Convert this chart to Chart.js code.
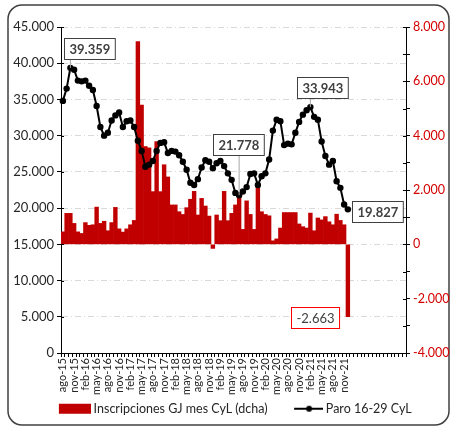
<!DOCTYPE html>
<html>
<head>
<meta charset="utf-8">
<script src="https://cdn.jsdelivr.net/npm/chart.js@4.4.0/dist/chart.umd.min.js"></script>
<style>
html, body { margin: 0; padding: 0; background: #fff; }
canvas { display: block; }
</style>
</head>
<body>
<canvas id="grafico" width="451" height="428"></canvas>
<script>
// meses ago-15 .. dic-21
var meses = ['ago-15','sep-15','oct-15','nov-15','dic-15',
    'ene-16','feb-16','mar-16','abr-16','may-16','jun-16','jul-16','ago-16','sep-16','oct-16','nov-16','dic-16',
    'ene-17','feb-17','mar-17','abr-17','may-17','jun-17','jul-17','ago-17','sep-17','oct-17','nov-17','dic-17',
    'ene-18','feb-18','mar-18','abr-18','may-18','jun-18','jul-18','ago-18','sep-18','oct-18','nov-18','dic-18',
    'ene-19','feb-19','mar-19','abr-19','may-19','jun-19','jul-19','ago-19','sep-19','oct-19','nov-19','dic-19',
    'ene-20','feb-20','mar-20','abr-20','may-20','jun-20','jul-20','ago-20','sep-20','oct-20','nov-20','dic-20',
    'ene-21','feb-21','mar-21','abr-21','may-21','jun-21','jul-21','ago-21','sep-21','oct-21','nov-21','dic-21'];
var huecos = 15; // el eje sigue vacio a la derecha

// Paro 16-29 CyL (eje izq)
var paro = [34800,36500,39359,39100,37600,37500,37600,36900,36300,34100,
    31200,30000,30400,32100,32800,33200,31200,32000,32100,31200,
    29300,27900,25700,26000,26500,27900,29000,29100,27600,27900,
    27800,27300,26400,25300,23500,23200,24000,25600,26600,26400,
    25500,26200,26500,25800,24800,23900,22100,21778,22300,22900,
    24700,24800,23200,24400,24800,26700,30700,32200,32000,28700,
    28900,28800,30400,31900,32900,33500,33943,32600,32200,29200,
    27200,26000,26500,23700,22800,20500,19827];

// Inscripciones GJ mes CyL (eje dcha)
var inscripciones = [460,1140,1140,770,460,400,800,700,720,1370,
    770,850,500,800,1360,570,450,570,720,880,
    7460,5130,3600,3550,1940,3780,1940,2930,2480,1450,
    1450,1200,1100,1350,1660,1950,1080,1690,1410,1040,
    -150,1080,870,1950,870,1140,1450,1900,550,1600,
    1100,550,2180,1200,1100,1050,130,200,600,1170,
    1170,1170,1170,750,650,600,1150,500,970,900,
    1020,830,720,1110,880,720,-2663];

var ticksIzq = { min: 0, max: 45000, paso: 2500, etiqueta: 5000 };
var ticksDer = { min: -4000, max: 8000, paso: 500, etiqueta: 2000 };

// valores destacados: [serie, indice]
var destacados = [[1, 2], [1, 47], [1, 66], [1, 76], [0, 76]];

function miles(v) {
    var s = Math.abs(v).toString().replace(/\B(?=(\d{3})+(?!\d))/g, '.');
    return (v < 0 ? '-' : '') + s;
}

// muestras de leyenda (la parte visible va a la derecha de la imagen)
function muestra(tipo) {
    var c = document.createElement('canvas');
    c.width = 55; c.height = 12;
    var g = c.getContext('2d');
    if (tipo === 'barra') {
        g.fillStyle = '#c00000';
        g.fillRect(23, 1, 32, 10);
    } else {
        g.strokeStyle = '#000'; g.lineWidth = 2;
        g.beginPath(); g.moveTo(26, 6); g.lineTo(55, 6); g.stroke();
        g.fillStyle = '#000';
        g.beginPath(); g.arc(41, 6, 3, 0, Math.PI * 2); g.fill();
    }
    return c;
}

var PB = 3;
var etiquetas = meses.concat(new Array(huecos).fill(''));

var marco = {
    id: 'marco',
    beforeDraw: function(chart) {
        var ctx = chart.ctx;
        ctx.save();
        ctx.fillStyle = '#fff';
        ctx.fillRect(0, 0, chart.width, chart.height);
        ctx.strokeStyle = '#404040';
        ctx.lineWidth = 1.5;
        ctx.beginPath();
        ctx.roundRect(8, 5, 441, 420, 14);
        ctx.stroke();
        ctx.restore();
    },
    afterDraw: function(chart) {
        // marcas que cruzan el eje
        var ctx = chart.ctx;
        ctx.save();
        ctx.strokeStyle = '#000';
        ctx.lineWidth = 1;
        ['y', 'y2'].forEach(function(id) {
            var s = chart.scales[id];
            var x = id === 'y' ? s.right : s.left;
            var d = id === 'y' ? 3 : -3;
            s.ticks.forEach(function(t) {
                var py = Math.round(s.getPixelForValue(t.value)) + 0.5;
                ctx.beginPath(); ctx.moveTo(x, py); ctx.lineTo(x + d, py); ctx.stroke();
            });
        });
        ctx.restore();
    }
};

var notas = {
    id: 'notas',
    afterDatasetsDraw: function(chart) {
        var ctx = chart.ctx;
        var desp = [[19, -19], [-1, -51], [12, -20], [30, 2], [-33, 1]];
        ctx.save();
        destacados.forEach(function(d, k) {
            var el = chart.getDatasetMeta(d[0]).data[d[1]];
            var valor = d[0] === 0 ? inscripciones[d[1]] : paro[d[1]];
            var texto = miles(valor);
            var negrita = d[0] === 1;
            ctx.font = (negrita ? 'bold ' : '') + '13px Lato';
            var w = ctx.measureText(texto).width + 10;
            var h = 21;
            var cx = el.x + desp[k][0], cy = el.y + desp[k][1];
            var l = Math.round(cx - w / 2) + 0.5, t = Math.round(cy - h / 2) + 0.5;
            if (el.y > t + h + 2) {
                ctx.strokeStyle = '#a6a6a6'; ctx.lineWidth = 1;
                ctx.beginPath();
                ctx.moveTo(Math.min(Math.max(el.x, l + 4), l + w - 4), t + h);
                ctx.lineTo(el.x, el.y);
                ctx.stroke();
            }
            ctx.fillStyle = '#fff';
            ctx.fillRect(l, t, w, h);
            ctx.strokeStyle = negrita ? '#404040' : '#ff0000';
            ctx.lineWidth = 1;
            ctx.strokeRect(l, t, w, h);
            ctx.fillStyle = '#404040';
            ctx.textAlign = 'center';
            ctx.textBaseline = 'middle';
            ctx.fillText(texto, l + w / 2, t + h / 2 + 1);
        });
        ctx.restore();
    }
};

Chart.defaults.font.family = 'Lato';
Chart.defaults.color = '#262626';

new Chart(document.getElementById('grafico'), {
    type: 'bar',
    data: {
        labels: etiquetas,
        datasets: [{
            type: 'bar',
            label: 'Inscripciones GJ mes CyL (dcha)',
            data: inscripciones,
            yAxisID: 'y2',
            backgroundColor: '#c00000',
            barPercentage: 1,
            categoryPercentage: 1,
            order: 2
        }, {
            type: 'line',
            label: 'Paro 16-29 CyL',
            data: paro,
            yAxisID: 'y',
            borderColor: '#000',
            borderWidth: 2,
            pointRadius: 3.2,
            pointBackgroundColor: '#000',
            pointBorderWidth: 0,
            tension: 0,
            order: 1
        }]
    },
    options: {
        responsive: false,
        animation: false,
        layout: { padding: { left: 0, right: 0, top: 27, bottom: PB } },
        plugins: {
            tooltip: { enabled: false },
            legend: {
                position: 'bottom',
                labels: {
                    font: { size: 12.5 },
                    color: '#262626',
                    usePointStyle: true,
                    pointStyleWidth: 48,
                    boxHeight: 12,
                    padding: 4,
                    generateLabels: function() {
                        return [
                            { text: 'Inscripciones GJ mes CyL (dcha)', pointStyle: muestra('barra'), datasetIndex: 0, lineWidth: 0, fontColor: '#262626' },
                            { text: 'Paro 16-29 CyL', pointStyle: muestra('linea'), datasetIndex: 1, lineWidth: 0, fontColor: '#262626' }
                        ];
                    }
                }
            }
        },
        scales: {
            x: {
                offset: true,
                grid: { drawOnChartArea: false, tickLength: 4, tickColor: '#000', offset: true },
                border: { color: '#000', width: 1 },
                ticks: {
                    autoSkip: false,
                    maxRotation: 90,
                    minRotation: 90,
                    padding: 1,
                    font: { size: 11 },
                    color: '#262626',
                    callback: function(v, i) {
                        return (i % 3 === 0 && i < meses.length - 1) ? etiquetas[i] : '';
                    }
                },
                afterFit: function(s) {
                    var lg = s.chart.legend ? s.chart.legend.height : 27;
                    s.height = 428 - PB - lg - 353;
                }
            },
            y: {
                position: 'left',
                min: ticksIzq.min,
                max: ticksIzq.max,
                ticks: {
                    stepSize: ticksIzq.paso,
                    padding: 3,
                    font: { size: 13 },
                    color: '#262626',
                    callback: function(v) { return v % ticksIzq.etiqueta === 0 ? miles(v) : ''; }
                },
                grid: {
                    color: function(c) {
                        var v = c.tick ? c.tick.value : 0;
                        return (v > 0 && v % ticksIzq.etiqueta === 0) ? '#d9d9d9' : 'rgba(0,0,0,0)';
                    },
                    lineWidth: 1,
                    tickLength: 4,
                    tickColor: '#000'
                },
                border: { color: '#000', width: 1, dash: [6, 3, 1, 3] },
                afterFit: function(s) { s.width = 61; }
            },
            y2: {
                position: 'right',
                min: ticksDer.min,
                max: ticksDer.max,
                ticks: {
                    stepSize: ticksDer.paso,
                    padding: 3,
                    font: { size: 12.5 },
                    color: '#d40000',
                    callback: function(v) { return v % ticksDer.etiqueta === 0 ? miles(v) : ''; }
                },
                grid: { drawOnChartArea: false, tickLength: 4, tickColor: '#000' },
                border: { color: '#000', width: 1 },
                afterFit: function(s) { s.width = 45; }
            }
        }
    },
    plugins: [marco, notas]
});
</script>
</body>
</html>
